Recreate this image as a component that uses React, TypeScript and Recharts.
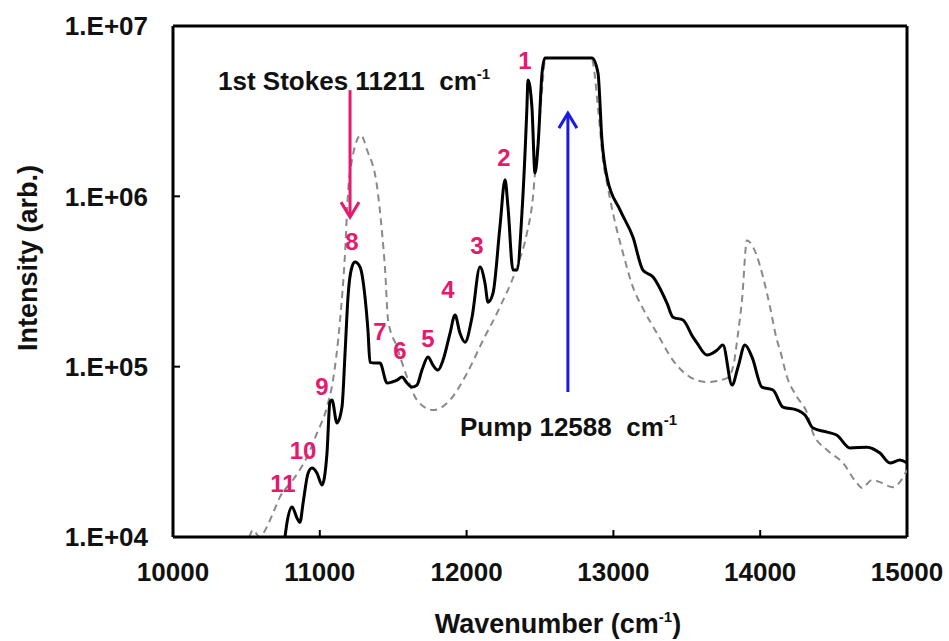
import { LineChart, Line, XAxis, YAxis, ReferenceLine, ReferenceDot } from 'recharts'

// [wavenumber (cm-1), intensity]
const solidSpectrum: [number, number][] = [
  [10763, 10000], [10777, 12200], [10811, 15000], [10845, 12900], [10865, 12200],
  [10886, 15800], [10920, 23700], [10947, 25400], [10981, 23700], [11015, 20200],
  [11049, 31100], [11069, 62000], [11083, 63700], [11117, 46700], [11151, 57900],
  [11172, 120000], [11192, 256000], [11219, 385000], [11240, 411000], [11274, 385000],
  [11308, 256000], [11328, 164000], [11342, 106000], [11376, 105000], [11410, 105000],
  [11458, 80200], [11492, 81300], [11526, 83400], [11560, 86900], [11594, 80200],
  [11628, 75900], [11662, 78000], [11696, 95500], [11737, 114000], [11771, 102000],
  [11805, 95500], [11839, 109000], [11887, 157000], [11921, 201000], [11955, 157000],
  [11989, 139000], [12037, 195000], [12091, 385000], [12125, 310000], [12146, 239000],
  [12180, 270000], [12227, 661000], [12262, 1250000], [12282, 865000], [12316, 369000],
  [12343, 369000], [12377, 798000], [12411, 3340000], [12418, 4820000], [12445, 3340000],
  [12466, 1370000], [12486, 1950000], [12514, 5300000], [12534, 6490000], [12854, 6490000],
  [12895, 5300000], [12922, 2140000], [12956, 1300000], [13045, 832000], [13133, 577000],
  [13201, 369000], [13270, 336000], [13365, 236000], [13406, 195000], [13474, 188000],
  [13542, 149000], [13569, 138000], [13638, 117000], [13706, 125000], [13746, 134000],
  [13808, 78000], [13849, 99500], [13896, 134000], [13944, 114000], [14012, 75900],
  [14087, 72900], [14155, 57900], [14251, 55600], [14305, 52000], [14360, 43600],
  [14455, 41300], [14523, 39600], [14612, 33300], [14728, 33700], [14816, 31100],
  [14884, 27200], [14952, 28300], [15000, 27200],
]

const dashedSpectrum: [number, number][] = [
  [10520, 10000], [10545, 11000], [10590, 10000], [10640, 11500], [10681, 13800],
  [10729, 17200], [10817, 21600], [10913, 29500], [10981, 40700], [11049, 57900],
  [11090, 83400], [11138, 188000], [11172, 465000], [11192, 1040000], [11219, 1630000],
  [11280, 2290000], [11322, 1870000], [11390, 1140000], [11425, 600000], [11445, 369000],
  [11465, 188000], [11526, 130000], [11594, 86900], [11662, 63700], [11771, 55600],
  [11887, 63700], [12003, 91600], [12112, 143000], [12227, 224000], [12343, 385000],
  [12411, 610000], [12452, 991000], [12466, 1370000], [12500, 3000000], [12540, 6490000],
  [12850, 6490000], [12900, 3000000], [12930, 1600000], [12956, 1200000], [12997, 798000],
  [13065, 465000], [13133, 293000], [13201, 220000], [13297, 157000], [13406, 109000],
  [13522, 86900], [13638, 81300], [13774, 85700], [13815, 99500], [13849, 157000],
  [13876, 246000], [13910, 553000], [13951, 504000], [14046, 270000], [14067, 224000],
  [14114, 143000], [14135, 125000], [14183, 86900], [14251, 66400], [14319, 53500],
  [14360, 40700], [14455, 32400], [14564, 27200], [14659, 20700], [14694, 19400],
  [14762, 21600], [14816, 21000], [14905, 19600], [15000, 24700],
]

// peak numbers: [label, wavenumber, intensity]
const peakLabels: [string, number, number][] = [
  ['1', 12398, 6300000], ['2', 12255, 1700000], ['3', 12071, 518000],
  ['4', 11873, 282000], ['5', 11737, 147000], ['6', 11546, 125000],
  ['7', 11410, 160000], ['8', 11219, 540000], ['9', 11015, 76000],
  ['10', 10886, 32400], ['11', 10749, 20700],
]

const xTicks = [10000, 11000, 12000, 13000, 14000, 15000]
const yTicks = [10000, 100000, 1000000, 10000000]

const stokesArrow = [{ x: 11206, y: 4200000 }, { x: 11206, y: 755000 }]
const pumpArrow = [{ x: 12690, y: 71000 }, { x: 12690, y: 3080000 }]

const FONT = 'Liberation Sans, Arial, sans-serif'
const PINK = '#e5196e'
const BLUE = '#1a1ae0'

const solidData = solidSpectrum.map(([x, y]) => ({ x, y }))
const dashedData = dashedSpectrum.map(([x, y]) => ({ x, y }))

const X_MARGIN = 26
const Y_MARGIN = 25
const TICK_LEN = 7

const XTick = (p: any) => {
  const axisY = p.y - X_MARGIN
  return (
    <g>
      <line x1={p.x} x2={p.x} y1={axisY} y2={axisY - TICK_LEN} stroke="#000" strokeWidth={2} />
      <text x={p.x} y={p.y} dy="0.71em" textAnchor="middle" fontSize={26} fontWeight="bold" fill="#111" fontFamily={FONT}>
        {p.payload.value}
      </text>
    </g>
  )
}

const YTick = (p: any) => {
  const axisX = p.x + Y_MARGIN
  return (
    <g>
      <line x1={axisX} x2={axisX + TICK_LEN} y1={p.y} y2={p.y} stroke="#000" strokeWidth={2} />
      <text x={p.x} y={p.y} dy="0.355em" textAnchor="end" fontSize={26} fontWeight="bold" fill="#111" fontFamily={FONT}>
        {'1.E+0' + Math.round(Math.log10(p.payload.value))}
      </text>
    </g>
  )
}

const arrow = (color: string) => (p: any) => {
  const { x1, y1, x2, y2 } = p
  const dir = y2 > y1 ? 1 : -1
  const w = 9
  const h = 15
  return (
    <g>
      <line x1={x1} y1={y1} x2={x2} y2={y2} stroke={color} strokeWidth={3} />
      <polyline
        points={`${x2 - w},${y2 - dir * h} ${x2},${y2} ${x2 + w},${y2 - dir * h}`}
        fill="none"
        stroke={color}
        strokeWidth={3}
      />
    </g>
  )
}

const note = (text: string) => (p: any) => {
  const { x, y } = p.viewBox
  return (
    <text x={x} y={y} fontSize={26} fontWeight="bold" fill="#111" fontFamily={FONT} style={{ whiteSpace: 'pre' }}>
      {text}
      <tspan fontSize={15} dy={-11}>-1</tspan>
    </text>
  )
}

const XTitle = (p: any) => {
  const { x, y, width } = p.viewBox
  return (
    <text x={x + width / 2 + 18} y={y + 96} textAnchor="middle" fontSize={27} fontWeight="bold" fill="#111" fontFamily={FONT}>
      Wavenumber (cm
      <tspan fontSize={15} dy={-11}>-1</tspan>
      <tspan dy={11}>)</tspan>
    </text>
  )
}

const YTitle = () => (
  <text x={37} y={258} transform="rotate(-90, 37, 258)" textAnchor="middle" fontSize={27} fontWeight="bold" fill="#111" fontFamily={FONT}>
    Intensity (arb.)
  </text>
)

export default function App() {
  return (
    <div style={{ position: 'absolute', left: 0, top: 0, background: '#fff' }}>
      <LineChart width={949} height={641} margin={{ top: 26, right: 42, left: 0, bottom: 0 }} style={{ fontFamily: FONT }}>
        <XAxis
          dataKey="x"
          type="number"
          domain={[10000, 15000]}
          ticks={xTicks}
          allowDataOverflow
          height={104}
          tickSize={0}
          tickMargin={X_MARGIN}
          axisLine={{ stroke: '#000', strokeWidth: 3 }}
          tickLine={false}
          tick={XTick}
          label={{ content: XTitle }}
        />
        <YAxis
          dataKey="y"
          scale="log"
          domain={[10000, 10000000]}
          ticks={yTicks}
          allowDataOverflow
          width={173}
          tickSize={0}
          tickMargin={Y_MARGIN}
          axisLine={{ stroke: '#000', strokeWidth: 3 }}
          tickLine={false}
          tick={YTick}
          label={{ content: YTitle }}
        />
        <ReferenceLine y={10000000} stroke="#000" strokeWidth={3} />
        <ReferenceLine x={15000} stroke="#000" strokeWidth={3} />
        <Line
          data={dashedData}
          dataKey="y"
          type="monotone"
          stroke="#8a8a8a"
          strokeWidth={2}
          strokeDasharray="7 5"
          dot={false}
          isAnimationActive={false}
        />
        <Line
          data={solidData}
          dataKey="y"
          type="monotone"
          stroke="#000"
          strokeWidth={3}
          dot={false}
          isAnimationActive={false}
        />
        <ReferenceLine segment={stokesArrow} shape={arrow(PINK)} />
        <ReferenceLine segment={pumpArrow} shape={arrow(BLUE)} />
        {peakLabels.map(([label, x, y]) => (
          <ReferenceDot
            key={label}
            x={x}
            y={y}
            r={0}
            stroke="none"
            fill="none"
            label={{ value: label, position: 'center', fill: PINK, fontSize: 24, fontWeight: 'bold' }}
          />
        ))}
        <ReferenceDot x={10307} y={4200000} r={0} stroke="none" fill="none" label={note('1st Stokes 11211  cm')} />
        <ReferenceDot x={11955} y={39100} r={0} stroke="none" fill="none" label={note('Pump 12588  cm')} />
      </LineChart>
    </div>
  )
}
